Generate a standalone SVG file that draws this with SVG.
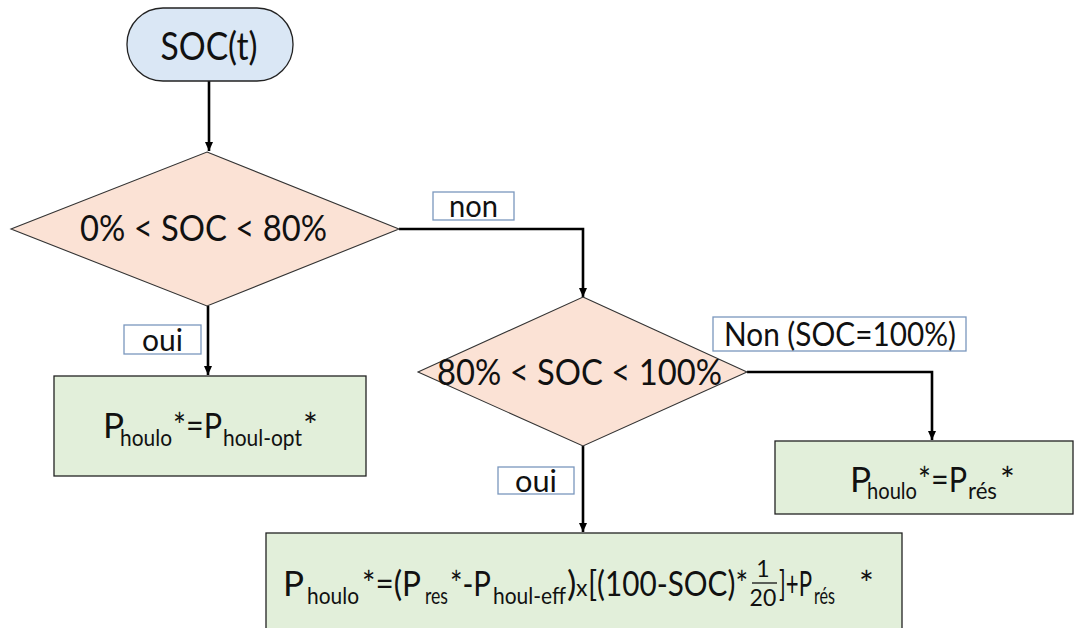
<svg xmlns="http://www.w3.org/2000/svg" width="1075" height="628" viewBox="0 0 1075 628">
<defs>
<marker id="arr" markerUnits="userSpaceOnUse" markerWidth="10" markerHeight="10" refX="9" refY="4.5" orient="auto">
<path d="M0,0.5 L9,4.5 L0,8.5 z" fill="#000"/>
</marker>
<style>
.t{font-family:Lato,"Liberation Sans",sans-serif;fill:#111;}
.big{font-size:35px;}
.sub{font-size:23px;}
.lbl{font-size:31px;}
.box{fill:#E2EFDA;stroke:#222;stroke-width:1.3;}
.dia{fill:#FBE2D5;stroke:#333;stroke-width:1.1;}
.lb{fill:#fff;stroke:#7A97BE;stroke-width:1.3;}
.con{fill:none;stroke:#000;stroke-width:2.6;marker-end:url(#arr);}
</style>
</defs>
<rect width="1075" height="628" fill="#fff"/>

<g id="connectors">
<path class="con" d="M209,81 L209,151"/>
<path class="con" d="M208,306 L208,375"/>
<path class="con" d="M399,229 L583,229 L583,297"/>
<path class="con" d="M583,446 L583,532"/>
<path class="con" d="M747,372 L932,372 L932,440"/>
</g>

<g id="start">
<rect x="127" y="8" width="166" height="73" rx="36" ry="36" fill="#DAE7F5" stroke="#222" stroke-width="1.3"/>
<text class="t" x="209" y="60" font-size="38" text-anchor="middle" textLength="97" lengthAdjust="spacingAndGlyphs">SOC(t)</text>
</g>

<g id="decision1">
<polygon class="dia" points="207,152 399,229 207,306 11,229"/>
<text class="t" x="80" y="241" font-size="37" textLength="247" lengthAdjust="spacingAndGlyphs">0% &lt; SOC &lt; 80%</text>
</g>

<g id="label-non">
<rect class="lb" x="433" y="192" width="81" height="28"/>
<text class="t lbl" x="449" y="217" textLength="49" lengthAdjust="spacingAndGlyphs">non</text>
</g>

<g id="label-oui1">
<rect class="lb" x="124" y="325" width="77" height="29"/>
<text class="t lbl" x="142" y="351" textLength="41" lengthAdjust="spacingAndGlyphs">oui</text>
</g>

<g id="box-opt">
<rect class="box" x="54" y="376" width="312" height="100"/>
<text class="t">
<tspan class="big" x="103" y="438">P</tspan>
<tspan class="sub" x="120" y="446" textLength="52" lengthAdjust="spacingAndGlyphs">houlo</tspan>
<tspan class="big" x="173" y="438" textLength="49" lengthAdjust="spacingAndGlyphs">*=P</tspan>
<tspan class="sub" x="223" y="446" textLength="79" lengthAdjust="spacingAndGlyphs">houl-opt</tspan>
<tspan class="big" x="303" y="438">*</tspan>
</text>
</g>

<g id="decision2">
<polygon class="dia" points="583,297 747,372 583,446 418,372"/>
<text class="t" x="437" y="385" font-size="37" textLength="285" lengthAdjust="spacingAndGlyphs">80% &lt; SOC &lt; 100%</text>
</g>

<g id="label-non-100">
<rect class="lb" x="713" y="317" width="253" height="34"/>
<text class="t" x="724" y="346" font-size="32" textLength="232" lengthAdjust="spacingAndGlyphs">Non (SOC=100%)</text>
</g>

<g id="label-oui2">
<rect class="lb" x="498" y="467" width="76" height="27"/>
<text class="t lbl" x="515" y="492" textLength="42" lengthAdjust="spacingAndGlyphs">oui</text>
</g>

<g id="box-res">
<rect class="box" x="775" y="441" width="298" height="73"/>
<text class="t">
<tspan class="big" x="850" y="492">P</tspan>
<tspan class="sub" x="867" y="499" textLength="50" lengthAdjust="spacingAndGlyphs">houlo</tspan>
<tspan class="big" x="918" y="492" textLength="49" lengthAdjust="spacingAndGlyphs">*=P</tspan>
<tspan class="sub" x="968" y="499" textLength="29" lengthAdjust="spacingAndGlyphs">rés</tspan>
<tspan class="big" x="1000" y="492">*</tspan>
</text>
</g>

<g id="box-formula">
<rect class="box" x="266" y="533" width="636" height="110"/>
<text class="t">
<tspan class="big" x="283" y="596">P</tspan>
<tspan class="sub" x="307" y="604" textLength="52" lengthAdjust="spacingAndGlyphs">houlo</tspan>
<tspan class="big" x="362" y="596" textLength="59" lengthAdjust="spacingAndGlyphs">*=(P</tspan>
<tspan class="sub" x="425" y="604" textLength="23" lengthAdjust="spacingAndGlyphs">res</tspan>
<tspan class="big" x="450" y="596" textLength="41" lengthAdjust="spacingAndGlyphs">*-P</tspan>
<tspan class="sub" x="493" y="604" textLength="73" lengthAdjust="spacingAndGlyphs">houl-eff</tspan>
<tspan class="big" x="567" y="596">)</tspan>
<tspan class="sub" x="576" y="596">x</tspan>
<tspan class="big" x="588" y="596" textLength="160" lengthAdjust="spacingAndGlyphs">[(100-SOC)*</tspan>
<tspan class="sub" x="765" y="577" text-anchor="middle">1</tspan>
<tspan class="sub" x="765" y="606" text-anchor="middle">20</tspan>
<tspan class="big" x="779" y="596" textLength="33" lengthAdjust="spacingAndGlyphs">]+P</tspan>
<tspan class="sub" x="814" y="604" textLength="21" lengthAdjust="spacingAndGlyphs">rés</tspan>
<tspan class="big" x="859" y="596">*</tspan>
</text>
<line x1="752" y1="583" x2="777" y2="583" stroke="#111" stroke-width="1.3"/>
</g>
</svg>
